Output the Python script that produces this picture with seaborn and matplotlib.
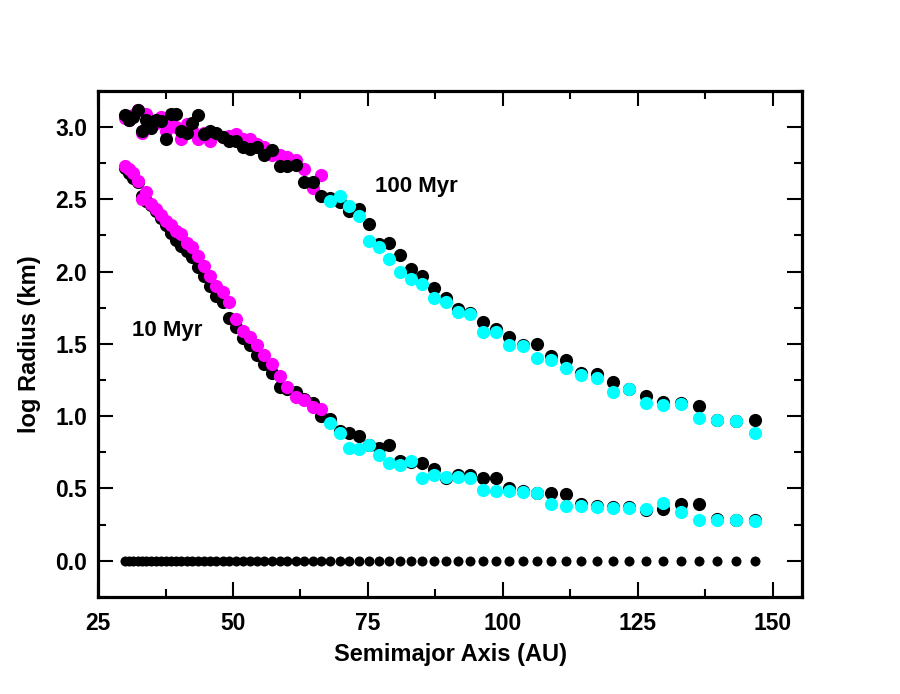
import matplotlib
matplotlib.use("Agg")
import matplotlib.pyplot as plt
import seaborn as sns
import pandas as pd
from matplotlib.ticker import MultipleLocator

# ---- data ----
a_au = [30.0, 30.75, 31.53, 32.32, 33.13, 33.96, 34.82, 35.69, 36.59, 37.51,
        38.45, 39.42, 40.41, 41.42, 42.46, 43.53, 44.62, 45.74, 46.89, 48.07,
        49.28, 50.51, 51.78, 53.08, 54.42, 55.78, 57.18, 58.62, 60.09, 61.60,
        63.15, 64.74, 66.36, 68.03, 69.74, 71.49, 73.29, 75.13, 77.01, 78.95,
        80.93, 82.97, 85.05, 87.19, 89.38, 91.62, 93.92, 96.28, 98.70, 101.18,
        103.72, 106.32, 109.00, 111.73, 114.54, 117.42, 120.37, 123.39, 126.49, 129.67,
        132.92, 136.26, 139.69, 143.19, 146.79]

floor_r = [0.0] * 65

black_10 = [2.72, 2.68, 2.65, 2.62, 2.52, 2.49, 2.46, 2.42, 2.37, 2.32,
            2.27, 2.22, 2.18, 2.14, 2.10, 2.03, 1.97, 1.90, 1.83, 1.79,
            1.68, 1.62, 1.54, 1.49, 1.42, 1.36, 1.30, 1.20, 1.19, 1.17,
            1.12, 1.09, 1.00, 0.98, 0.90, 0.88, 0.86, 0.80, 0.78, 0.80,
            0.69, 0.68, 0.675, 0.635, 0.57, 0.59, 0.59, 0.57, 0.57, 0.50,
            0.48, 0.47, 0.47, 0.46, 0.39, 0.38, 0.37, 0.37, 0.35, 0.36,
            0.39, 0.39, 0.29, 0.285, 0.28]

color_10 = [2.73, 2.71, 2.68, 2.63, 2.50, 2.55, 2.47, 2.43, 2.39, 2.35,
            2.32, 2.28, 2.26, 2.20, 2.17, 2.11, 2.04, 1.97, 1.90, 1.86,
            1.79, 1.67, 1.59, 1.55, 1.49, 1.42, 1.36, 1.28, 1.20, 1.13,
            1.11, 1.06, 1.05, 0.95, 0.88, 0.78, 0.77, 0.80, 0.73, 0.675,
            0.66, 0.69, 0.57, 0.59, 0.58, 0.58, 0.57, 0.49, 0.48, 0.48,
            0.475, 0.47, 0.39, 0.38, 0.38, 0.37, 0.365, 0.365, 0.355, 0.40,
            0.335, 0.28, 0.28, 0.28, 0.275]

black_100 = [3.08, 3.05, 3.07, 3.12, 2.97, 3.05, 2.99, 3.05, 3.04, 2.92,
             3.09, 3.09, 2.97, 2.96, 3.03, 3.08, 2.95, 2.97, 2.96, 2.93,
             2.905, 2.905, 2.86, 2.85, 2.86, 2.81, 2.84, 2.73, 2.73, 2.74,
             2.62, 2.62, 2.525, 2.51, 2.48, 2.42, 2.43, 2.33, 2.19, 2.20,
             2.115, 2.02, 1.97, 1.89, 1.815, 1.74, 1.715, 1.65, 1.60, 1.55,
             1.49, 1.50, 1.415, 1.39, 1.30, 1.29, 1.235, 1.19, 1.14, 1.10,
             1.09, 1.07, 0.975, 0.965, 0.975]

color_100 = [3.06, 3.05, 3.08, 3.12, 2.96, 3.09, 3.04, 3.03, 3.07, 2.97,
             3.03, 3.00, 2.92, 3.02, 2.98, 2.92, 2.96, 2.905, 2.95, 2.93,
             2.94, 2.95, 2.92, 2.92, 2.88, 2.86, 2.81, 2.81, 2.79, 2.77,
             2.71, 2.58, 2.67, 2.49, 2.525, 2.455, 2.385, 2.21, 2.17, 2.09,
             1.995, 1.95, 1.915, 1.815, 1.79, 1.72, 1.705, 1.585, 1.585, 1.49,
             1.485, 1.40, 1.39, 1.335, 1.285, 1.265, 1.17, 1.19, 1.09, 1.08,
             1.085, 0.99, 0.975, 0.965, 0.88]

n_inner = 33  # first 33 grid points drawn in magenta, the rest in cyan

x_ticks = [25, 50, 75, 100, 125, 150]
y_ticks = [0.0, 0.5, 1.0, 1.5, 2.0, 2.5, 3.0]

# ---- style ----
sns.set_style("ticks")
plt.rcParams['font.family'] = ['Liberation Sans', 'DejaVu Sans']
plt.rcParams['font.weight'] = 'bold'
plt.rcParams['text.color'] = 'black'
plt.rcParams['axes.labelcolor'] = 'black'
plt.rcParams['xtick.color'] = 'black'
plt.rcParams['ytick.color'] = 'black'

fig = plt.figure(figsize=(9.0, 6.94), dpi=100)
ax = fig.add_axes([0.109, 0.140, 0.782, 0.729])

df = pd.DataFrame({"a": a_au, "floor": floor_r, "b10": black_10, "c10": color_10,
                   "b100": black_100, "c100": color_100})
inner = df.iloc[:n_inner]
outer = df.iloc[n_inner:]

big = 90
kw = dict(linewidth=0, legend=False, ax=ax)

sns.scatterplot(data=df, x="a", y="floor", color="black", s=52, zorder=2, **kw)

# 10 Myr
sns.scatterplot(data=df, x="a", y="b10", color="black", s=big, zorder=3, **kw)
sns.scatterplot(data=inner, x="a", y="c10", color="#ff00ff", s=big, zorder=4, **kw)
sns.scatterplot(data=outer, x="a", y="c10", color="#00ffff", s=big, zorder=4, **kw)

# 100 Myr
sns.scatterplot(data=inner, x="a", y="c100", color="#ff00ff", s=big, zorder=3, **kw)
sns.scatterplot(data=df, x="a", y="b100", color="black", s=big, zorder=4, **kw)
sns.scatterplot(data=outer, x="a", y="c100", color="#00ffff", s=big, zorder=5, **kw)

ax.set_xlim(25, 155.4)
ax.set_ylim(-0.25, 3.25)
ax.set_xticks(x_ticks)
ax.set_yticks(y_ticks)
ax.set_xticklabels([str(t) for t in x_ticks])
ax.set_yticklabels([f"{t:.1f}" for t in y_ticks])
ax.xaxis.set_minor_locator(MultipleLocator(12.5))
ax.yaxis.set_minor_locator(MultipleLocator(0.25))

ax.tick_params(which="both", direction="in", top=True, right=True, width=1.5,
               labelsize=16.5, colors="black", labelcolor="black")
ax.tick_params(which="major", length=11)
ax.tick_params(which="minor", length=5.5)
ax.tick_params(axis="x", which="major", pad=11)
ax.tick_params(axis="y", which="major", pad=8)
for lab in ax.get_xticklabels() + ax.get_yticklabels():
    lab.set_fontweight("bold")
    lab.set_color("black")

for sp in ax.spines.values():
    sp.set_linewidth(2.3)
    sp.set_color("black")
    sp.set_visible(True)

ax.set_xlabel("Semimajor Axis (AU)", fontsize=17, fontweight="bold", labelpad=6, color="black")
ax.set_ylabel("log Radius (km)", fontsize=17, fontweight="bold", labelpad=10, color="black")

ax.text(83.9, 2.59, "100 Myr", fontsize=16, fontweight="bold", ha="center", va="center", color="black")
ax.text(37.8, 1.59, "10 Myr", fontsize=16, fontweight="bold", ha="center", va="center", color="black")

fig.savefig("out.png", dpi=100)
